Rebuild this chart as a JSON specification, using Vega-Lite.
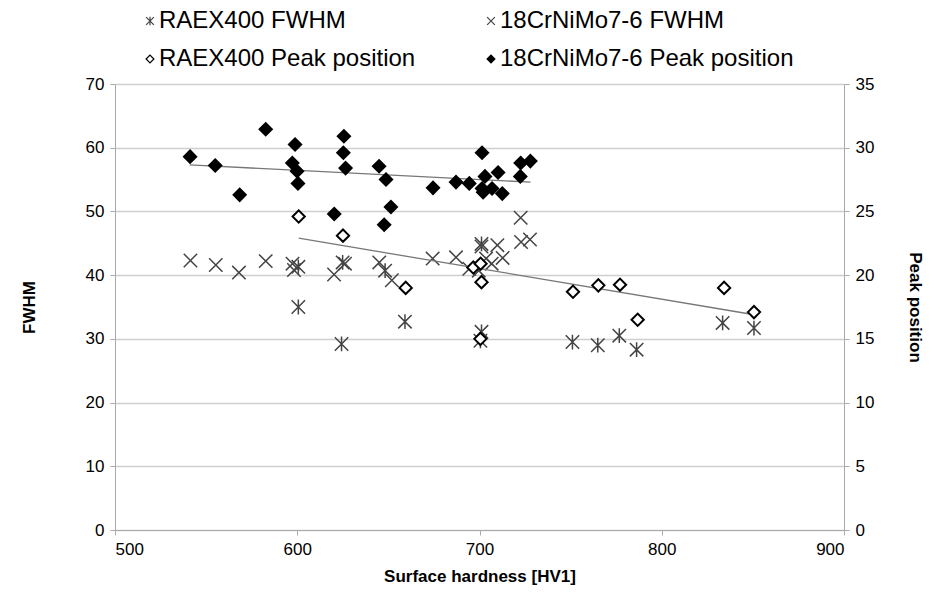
{
  "$schema": "https://vega.github.io/schema/vega-lite/v6.json",
  "width": 729,
  "height": 446,
  "autosize": {"type": "none"},
  "padding": {"left": 115, "top": 84, "right": 99, "bottom": 63},
  "background": "white",
  "config": {
    "font": "Liberation Sans",
    "view": {"stroke": null},
    "axis": {"labelFontSize": 17, "labelColor": "#000", "titleFontSize": 17, "titleFontWeight": "bold", "titleColor": "#000", "domainColor": "#aaaaaa", "tickColor": "#aaaaaa", "tickSize": 5, "gridColor": "#cfcfcf", "gridWidth": 1.5}
  },
  "datasets": {
    "fwhm": [
      {"series": "18CrNiMo7-6 FWHM", "hv": 541.4, "fwhm": 42.3},
      {"series": "18CrNiMo7-6 FWHM", "hv": 555.3, "fwhm": 41.6},
      {"series": "18CrNiMo7-6 FWHM", "hv": 568.0, "fwhm": 40.4},
      {"series": "18CrNiMo7-6 FWHM", "hv": 582.7, "fwhm": 42.2},
      {"series": "18CrNiMo7-6 FWHM", "hv": 597.4, "fwhm": 41.8},
      {"series": "18CrNiMo7-6 FWHM", "hv": 598.2, "fwhm": 40.8},
      {"series": "18CrNiMo7-6 FWHM", "hv": 620.2, "fwhm": 40.1},
      {"series": "18CrNiMo7-6 FWHM", "hv": 626.2, "fwhm": 41.8},
      {"series": "18CrNiMo7-6 FWHM", "hv": 645.0, "fwhm": 42.0},
      {"series": "18CrNiMo7-6 FWHM", "hv": 651.9, "fwhm": 39.2},
      {"series": "18CrNiMo7-6 FWHM", "hv": 674.3, "fwhm": 42.6},
      {"series": "18CrNiMo7-6 FWHM", "hv": 687.1, "fwhm": 42.8},
      {"series": "18CrNiMo7-6 FWHM", "hv": 694.4, "fwhm": 41.0},
      {"series": "18CrNiMo7-6 FWHM", "hv": 699.6, "fwhm": 40.7},
      {"series": "18CrNiMo7-6 FWHM", "hv": 701.1, "fwhm": 44.5},
      {"series": "18CrNiMo7-6 FWHM", "hv": 703.6, "fwhm": 42.6},
      {"series": "18CrNiMo7-6 FWHM", "hv": 706.7, "fwhm": 41.8},
      {"series": "18CrNiMo7-6 FWHM", "hv": 709.8, "fwhm": 44.7},
      {"series": "18CrNiMo7-6 FWHM", "hv": 712.7, "fwhm": 42.7},
      {"series": "18CrNiMo7-6 FWHM", "hv": 722.6, "fwhm": 49.0},
      {"series": "18CrNiMo7-6 FWHM", "hv": 722.8, "fwhm": 45.2},
      {"series": "18CrNiMo7-6 FWHM", "hv": 727.7, "fwhm": 45.6},
      {"series": "RAEX400 FWHM", "hv": 600.6, "fwhm": 41.3},
      {"series": "RAEX400 FWHM", "hv": 600.6, "fwhm": 35.0},
      {"series": "RAEX400 FWHM", "hv": 624.9, "fwhm": 42.0},
      {"series": "RAEX400 FWHM", "hv": 624.3, "fwhm": 29.2},
      {"series": "RAEX400 FWHM", "hv": 648.2, "fwhm": 40.7},
      {"series": "RAEX400 FWHM", "hv": 659.1, "fwhm": 32.7},
      {"series": "RAEX400 FWHM", "hv": 701.1, "fwhm": 44.9},
      {"series": "RAEX400 FWHM", "hv": 701.1, "fwhm": 31.1},
      {"series": "RAEX400 FWHM", "hv": 700.5, "fwhm": 29.7},
      {"series": "RAEX400 FWHM", "hv": 751.0, "fwhm": 29.5},
      {"series": "RAEX400 FWHM", "hv": 764.9, "fwhm": 29.0},
      {"series": "RAEX400 FWHM", "hv": 776.7, "fwhm": 30.5},
      {"series": "RAEX400 FWHM", "hv": 786.2, "fwhm": 28.3},
      {"series": "RAEX400 FWHM", "hv": 833.4, "fwhm": 32.5},
      {"series": "RAEX400 FWHM", "hv": 850.6, "fwhm": 31.7}
    ],
    "peak": [
      {"series": "RAEX400 Peak position", "hv": 600.8, "peak": 24.6},
      {"series": "RAEX400 Peak position", "hv": 625.1, "peak": 23.1},
      {"series": "RAEX400 Peak position", "hv": 659.5, "peak": 19.0},
      {"series": "RAEX400 Peak position", "hv": 696.6, "peak": 20.6},
      {"series": "RAEX400 Peak position", "hv": 700.6, "peak": 20.9},
      {"series": "RAEX400 Peak position", "hv": 701.1, "peak": 19.45},
      {"series": "RAEX400 Peak position", "hv": 700.5, "peak": 15.0},
      {"series": "RAEX400 Peak position", "hv": 751.3, "peak": 18.7},
      {"series": "RAEX400 Peak position", "hv": 765.2, "peak": 19.2},
      {"series": "RAEX400 Peak position", "hv": 777.1, "peak": 19.25},
      {"series": "RAEX400 Peak position", "hv": 786.8, "peak": 16.5},
      {"series": "RAEX400 Peak position", "hv": 834.2, "peak": 19.0},
      {"series": "RAEX400 Peak position", "hv": 850.6, "peak": 17.1},
      {"series": "18CrNiMo7-6 Peak position", "hv": 541.2, "peak": 29.3},
      {"series": "18CrNiMo7-6 Peak position", "hv": 555.0, "peak": 28.6},
      {"series": "18CrNiMo7-6 Peak position", "hv": 568.4, "peak": 26.3},
      {"series": "18CrNiMo7-6 Peak position", "hv": 582.7, "peak": 31.45},
      {"series": "18CrNiMo7-6 Peak position", "hv": 598.8, "peak": 30.25},
      {"series": "18CrNiMo7-6 Peak position", "hv": 597.3, "peak": 28.8},
      {"series": "18CrNiMo7-6 Peak position", "hv": 599.9, "peak": 28.15},
      {"series": "18CrNiMo7-6 Peak position", "hv": 600.4, "peak": 27.2},
      {"series": "18CrNiMo7-6 Peak position", "hv": 620.3, "peak": 24.8},
      {"series": "18CrNiMo7-6 Peak position", "hv": 625.6, "peak": 30.9},
      {"series": "18CrNiMo7-6 Peak position", "hv": 625.3, "peak": 29.6},
      {"series": "18CrNiMo7-6 Peak position", "hv": 626.5, "peak": 28.4},
      {"series": "18CrNiMo7-6 Peak position", "hv": 644.9, "peak": 28.55},
      {"series": "18CrNiMo7-6 Peak position", "hv": 648.7, "peak": 27.5},
      {"series": "18CrNiMo7-6 Peak position", "hv": 651.4, "peak": 25.35},
      {"series": "18CrNiMo7-6 Peak position", "hv": 647.7, "peak": 23.95},
      {"series": "18CrNiMo7-6 Peak position", "hv": 674.5, "peak": 26.85},
      {"series": "18CrNiMo7-6 Peak position", "hv": 687.1, "peak": 27.3},
      {"series": "18CrNiMo7-6 Peak position", "hv": 694.4, "peak": 27.2},
      {"series": "18CrNiMo7-6 Peak position", "hv": 701.4, "peak": 29.6},
      {"series": "18CrNiMo7-6 Peak position", "hv": 703.0, "peak": 27.75},
      {"series": "18CrNiMo7-6 Peak position", "hv": 701.4, "peak": 26.8},
      {"series": "18CrNiMo7-6 Peak position", "hv": 702.0, "peak": 26.5},
      {"series": "18CrNiMo7-6 Peak position", "hv": 706.9, "peak": 26.8},
      {"series": "18CrNiMo7-6 Peak position", "hv": 710.2, "peak": 28.05},
      {"series": "18CrNiMo7-6 Peak position", "hv": 712.5, "peak": 26.4},
      {"series": "18CrNiMo7-6 Peak position", "hv": 722.6, "peak": 28.8},
      {"series": "18CrNiMo7-6 Peak position", "hv": 722.4, "peak": 27.75},
      {"series": "18CrNiMo7-6 Peak position", "hv": 727.9, "peak": 28.95}
    ],
    "trend": [
      {"trend": "18CrNiMo7-6", "hv": 541.0, "peak": 28.65},
      {"trend": "18CrNiMo7-6", "hv": 728.0, "peak": 27.3},
      {"trend": "RAEX400", "hv": 600.8, "peak": 22.9},
      {"trend": "RAEX400", "hv": 848.4, "peak": 16.95}
    ]
  },
  "encoding": {
    "x": {"field": "hv", "type": "quantitative", "title": "Surface hardness [HV1]",
      "scale": {"domain": [500, 900], "nice": false, "zero": false},
      "axis": {"values": [500, 600, 700, 800, 900], "grid": false, "labelPadding": 6, "titlePadding": 11}}
  },
  "layer": [
    {
      "data": {"name": "fwhm"},
      "mark": {"type": "point", "strokeWidth": 1.5, "opacity": 1},
      "encoding": {
        "y": {"field": "fwhm", "type": "quantitative", "title": "FWHM",
          "scale": {"domain": [0, 70], "nice": false},
          "axis": {"values": [0, 10, 20, 30, 40, 50, 60, 70], "grid": true, "orient": "left", "labelPadding": 6, "titlePadding": 47}},
        "shape": {"field": "series", "type": "nominal", "title": null,
          "scale": {"domain": ["RAEX400 FWHM", "RAEX400 Peak position", "18CrNiMo7-6 FWHM", "18CrNiMo7-6 Peak position"],
            "range": ["M-1,-1L1,1M-1,1L1,-1M0,-1.1L0,1.1", "diamond", "M-1,-1L1,1M-1,1L1,-1", "diamond"]}},
        "fill": {"field": "series", "type": "nominal", "title": null,
          "scale": {"domain": ["RAEX400 FWHM", "RAEX400 Peak position", "18CrNiMo7-6 FWHM", "18CrNiMo7-6 Peak position"],
            "range": ["transparent", "white", "transparent", "#000000"]}},
        "stroke": {"field": "series", "type": "nominal", "title": null,
          "scale": {"domain": ["RAEX400 FWHM", "RAEX400 Peak position", "18CrNiMo7-6 FWHM", "18CrNiMo7-6 Peak position"],
            "range": ["#444444", "#000000", "#444444", "#000000"]},
          "legend": {"orient": "none", "legendX": 23, "legendY": -75, "columns": 2, "columnPadding": 63, "rowPadding": 14,
            "labelFontSize": 24, "labelLimit": 0, "labelColor": "#000", "symbolSize": 60, "symbolStrokeWidth": 1.2, "labelOffset": -3}},
        "size": {"value": 180}
      }
    },
    {
      "layer": [
        {
          "data": {"name": "trend"},
          "mark": {"type": "line", "color": "#777777", "strokeWidth": 1.3},
          "encoding": {
            "y": {"field": "peak", "type": "quantitative"},
            "detail": {"field": "trend", "type": "nominal"}
          }
        },
        {
          "data": {"name": "peak"},
          "mark": {"type": "point", "strokeWidth": 2, "opacity": 1},
          "encoding": {
            "y": {"field": "peak", "type": "quantitative", "title": "Peak position",
              "scale": {"domain": [0, 35], "nice": false},
              "axis": {"values": [0, 5, 10, 15, 20, 25, 30, 35], "grid": false, "orient": "right", "labelPadding": 6, "titlePadding": 32}},
            "shape": {"field": "series", "type": "nominal", "title": null,
              "scale": {"domain": ["RAEX400 FWHM", "RAEX400 Peak position", "18CrNiMo7-6 FWHM", "18CrNiMo7-6 Peak position"]}},
            "fill": {"field": "series", "type": "nominal", "title": null,
              "scale": {"domain": ["RAEX400 FWHM", "RAEX400 Peak position", "18CrNiMo7-6 FWHM", "18CrNiMo7-6 Peak position"]}},
            "stroke": {"field": "series", "type": "nominal", "title": null,
              "scale": {"domain": ["RAEX400 FWHM", "RAEX400 Peak position", "18CrNiMo7-6 FWHM", "18CrNiMo7-6 Peak position"]}},
            "size": {"value": 150}
          }
        }
      ]
    }
  ],
  "resolve": {"scale": {"y": "independent"}}
}
